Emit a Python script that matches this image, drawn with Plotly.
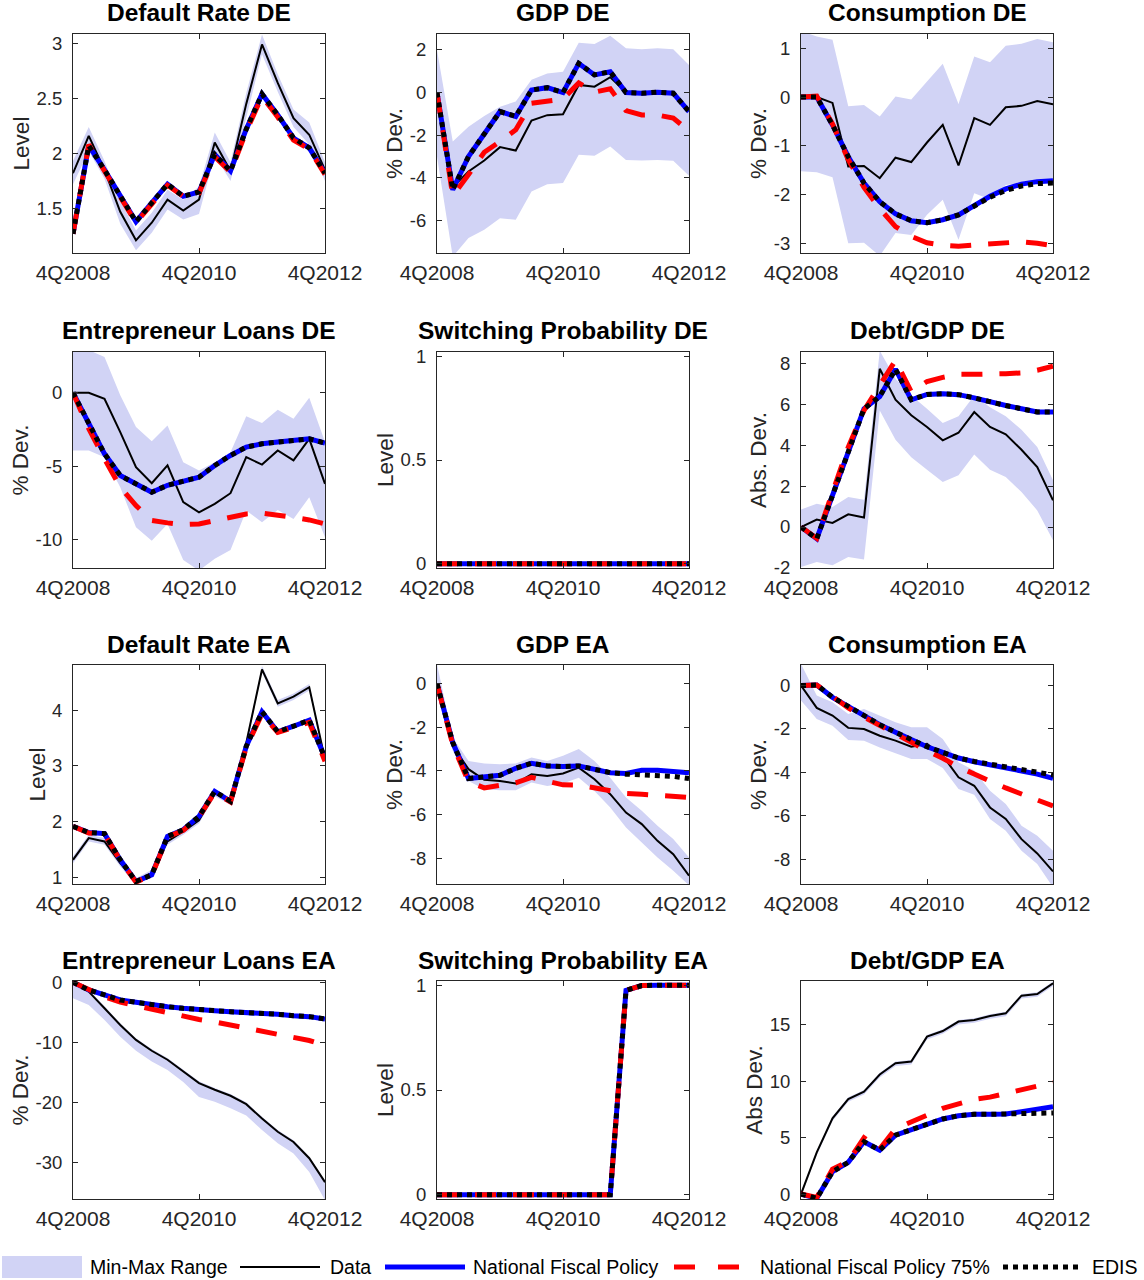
import plotly.graph_objects as go

# Quarterly sample, 4Q2008 to 4Q2012
QUARTERS = ["4Q2008", "1Q2009", "2Q2009", "3Q2009", "4Q2009", "1Q2010", "2Q2010",
            "3Q2010", "4Q2010", "1Q2011", "2Q2011", "3Q2011", "4Q2011", "1Q2012",
            "2Q2012", "3Q2012", "4Q2012"]
X_TICKS = ["4Q2008", "4Q2010", "4Q2012"]

# ---- Default Rate DE ----
def_de_lo = [1.72, 2.02, 1.77, 1.36, 1.12, 1.28, 1.49, 1.40, 1.45, 1.98, 1.75, 2.33, 2.90, 2.56, 2.24, 2.08, 1.75]
def_de_hi = [1.93, 2.24, 1.93, 1.57, 1.30, 1.46, 1.67, 1.58, 1.70, 2.19, 1.92, 2.55, 3.08, 2.72, 2.40, 2.28, 1.92]
def_de_data = [1.82, 2.16, 1.85, 1.47, 1.21, 1.37, 1.58, 1.48, 1.58, 2.10, 1.84, 2.45, 2.99, 2.64, 2.32, 2.17, 1.85]
def_de_nfp = [1.27, 2.07, 1.85, 1.62, 1.38, 1.55, 1.72, 1.61, 1.65, 1.99, 1.84, 2.22, 2.54, 2.35, 2.14, 2.05, 1.82]
def_de_nfp75 = [1.27, 2.08, 1.84, 1.61, 1.37, 1.54, 1.71, 1.61, 1.64, 1.97, 1.83, 2.20, 2.52, 2.33, 2.12, 2.04, 1.81]
def_de_edis = [1.27, 2.07, 1.85, 1.62, 1.38, 1.55, 1.72, 1.61, 1.65, 1.99, 1.84, 2.22, 2.54, 2.35, 2.14, 2.05, 1.82]

# ---- GDP DE ----
gdp_de_lo = [-3.0, -7.7, -6.83, -6.44, -5.9, -5.97, -4.64, -4.3, -4.25, -2.92, -2.97, -2.53, -3.16, -3.19, -3.16, -3.2, -3.9]
gdp_de_hi = [2.0, -2.3, -1.6, -1.1, -0.66, -0.42, 0.6, 0.9, 0.98, 2.34, 2.28, 2.67, 2.08, 2.03, 2.08, 2.03, 1.3]
gdp_de_data = [0.0, -4.45, -3.7, -3.19, -2.56, -2.72, -1.31, -1.06, -1.02, 0.36, 0.28, 0.72, 0.02, -0.02, 0.02, 0.0, -0.85]
gdp_de_nfp = [0.0, -4.56, -3.0, -1.9, -0.89, -1.12, 0.12, 0.23, 0.0, 1.37, 0.83, 0.98, 0.0, -0.03, 0.02, -0.03, -0.89]
gdp_de_nfp75 = [0.0, -4.85, -3.85, -2.8, -2.3, -1.75, -0.5, -0.42, -0.3, 0.45, 0.02, 0.18, -0.85, -1.05, -1.05, -1.2, -1.8]
gdp_de_edis = [0.0, -4.56, -3.0, -1.9, -0.89, -1.12, 0.12, 0.23, 0.0, 1.37, 0.83, 0.98, 0.0, -0.03, 0.02, -0.03, -0.89]

# ---- Consumption DE ----
con_de_lo = [-1.52, -1.54, -1.64, -2.99, -2.98, -3.25, -2.78, -2.82, -2.41, -2.1, -2.92, -1.97, -2.09, -1.8, -1.76, -1.69, -1.73]
con_de_hi = [1.35, 1.24, 1.17, -0.19, -0.16, -0.4, 0.01, -0.05, 0.32, 0.68, -0.14, 0.83, 0.71, 1.05, 1.09, 1.19, 1.12]
con_de_data = [0.0, 0.0, -0.12, -1.42, -1.41, -1.66, -1.24, -1.33, -0.93, -0.57, -1.4, -0.43, -0.57, -0.21, -0.18, -0.08, -0.15]
con_de_nfp = [0.0, 0.0, -0.57, -1.22, -1.76, -2.14, -2.39, -2.53, -2.57, -2.51, -2.41, -2.23, -2.03, -1.88, -1.78, -1.73, -1.71]
con_de_nfp75 = [0.0, 0.02, -0.55, -1.28, -1.85, -2.28, -2.65, -2.85, -2.98, -3.03, -3.05, -3.03, -3.0, -2.97, -2.96, -2.99, -3.04]
con_de_edis = [0.0, 0.0, -0.57, -1.22, -1.76, -2.14, -2.39, -2.53, -2.57, -2.51, -2.41, -2.24, -2.05, -1.91, -1.82, -1.77, -1.76]

# ---- Entrepreneur Loans DE ----
loan_de_lo = [-3.93, -3.93, -4.39, -6.43, -9.16, -10.07, -8.93, -11.39, -12.1, -11.3, -10.7, -8.02, -8.82, -7.98, -8.6, -7.11, -9.84]
loan_de_hi = [3.0, 2.9, 2.43, -0.18, -2.34, -3.3, -2.23, -4.73, -5.3, -4.73, -4.05, -1.61, -2.07, -1.16, -1.77, -0.34, -3.36]
loan_de_data = [0.0, 0.0, -0.41, -2.68, -5.07, -6.16, -4.95, -7.45, -8.14, -7.57, -6.84, -4.39, -4.89, -3.93, -4.61, -3.14, -6.2]
loan_de_nfp = [0.0, -2.1, -4.16, -5.64, -6.2, -6.77, -6.3, -6.0, -5.75, -4.95, -4.27, -3.7, -3.48, -3.36, -3.25, -3.14, -3.43]
loan_de_nfp75 = [0.0, -2.45, -4.5, -6.43, -7.68, -8.7, -8.86, -8.98, -8.93, -8.7, -8.48, -8.25, -8.2, -8.3, -8.48, -8.66, -8.93]
loan_de_edis = [0.0, -2.1, -4.16, -5.64, -6.2, -6.77, -6.3, -6.0, -5.75, -4.95, -4.27, -3.7, -3.48, -3.36, -3.25, -3.14, -3.43]

# ---- Switching Probability DE ----
sw_de_nfp = [0.0, 0.0, 0.0, 0.0, 0.0, 0.0, 0.0, 0.0, 0.0, 0.0, 0.0, 0.0, 0.0, 0.0, 0.0, 0.0, 0.0]
sw_de_nfp75 = [0.0, 0.0, 0.0, 0.0, 0.0, 0.0, 0.0, 0.0, 0.0, 0.0, 0.0, 0.0, 0.0, 0.0, 0.0, 0.0, 0.0]
sw_de_edis = [0.0, 0.0, 0.0, 0.0, 0.0, 0.0, 0.0, 0.0, 0.0, 0.0, 0.0, 0.0, 0.0, 0.0, 0.0, 0.0, 0.0]

# ---- Debt/GDP DE ----
debt_de_lo = [-1.95, -1.71, -1.87, -1.46, -1.59, 5.69, 4.26, 3.41, 2.8, 2.2, 2.52, 3.54, 2.8, 2.44, 1.71, 0.81, -0.65]
debt_de_hi = [0.85, 1.14, 0.98, 1.46, 1.33, 8.6, 7.24, 6.42, 5.77, 5.07, 5.4, 6.42, 5.85, 5.4, 4.75, 3.9, 2.28]
debt_de_data = [0.0, 0.36, 0.2, 0.62, 0.46, 7.72, 6.21, 5.45, 4.88, 4.23, 4.6, 5.61, 4.88, 4.52, 3.77, 2.93, 1.3]
debt_de_nfp = [0.0, -0.57, 1.54, 3.74, 5.77, 6.37, 7.7, 6.21, 6.47, 6.5, 6.46, 6.3, 6.1, 5.93, 5.77, 5.61, 5.61]
debt_de_nfp75 = [0.0, -0.55, 1.7, 3.9, 5.69, 6.9, 8.13, 6.6, 7.1, 7.3, 7.45, 7.45, 7.45, 7.48, 7.52, 7.65, 7.85]
debt_de_edis = [0.0, -0.57, 1.54, 3.74, 5.77, 6.37, 7.7, 6.21, 6.47, 6.5, 6.46, 6.3, 6.1, 5.93, 5.77, 5.61, 5.61]

# ---- Default Rate EA ----
def_ea_lo = [1.25, 1.64, 1.58, 1.19, 0.86, 1.01, 1.58, 1.76, 1.96, 2.45, 2.30, 3.35, 4.67, 4.06, 4.18, 4.35, 3.05]
def_ea_hi = [1.37, 1.76, 1.70, 1.31, 0.98, 1.13, 1.70, 1.88, 2.08, 2.57, 2.42, 3.47, 4.79, 4.18, 4.30, 4.47, 3.17]
def_ea_data = [1.31, 1.70, 1.64, 1.25, 0.92, 1.07, 1.64, 1.82, 2.02, 2.51, 2.36, 3.41, 4.73, 4.12, 4.24, 4.41, 3.11]
def_ea_nfp = [1.91, 1.80, 1.78, 1.31, 0.92, 1.04, 1.73, 1.85, 2.09, 2.54, 2.36, 3.35, 3.97, 3.61, 3.71, 3.82, 3.14]
def_ea_nfp75 = [1.91, 1.79, 1.77, 1.30, 0.91, 1.03, 1.72, 1.84, 2.08, 2.52, 2.35, 3.33, 3.93, 3.60, 3.69, 3.78, 3.08]
def_ea_edis = [1.91, 1.80, 1.78, 1.31, 0.92, 1.04, 1.73, 1.85, 2.09, 2.54, 2.36, 3.35, 3.97, 3.61, 3.71, 3.82, 3.14]

# ---- GDP EA ----
gdp_ea_lo = [-0.41, -3.08, -4.46, -4.84, -4.89, -4.89, -4.53, -4.69, -4.58, -4.31, -4.92, -5.68, -6.6, -7.28, -7.97, -8.58, -9.25]
gdp_ea_hi = [0.9, -2.47, -3.54, -3.66, -3.69, -3.66, -3.39, -3.54, -3.31, -3.0, -3.54, -4.31, -5.22, -5.83, -6.52, -7.13, -7.97]
gdp_ea_data = [0.0, -2.86, -3.92, -4.41, -4.46, -4.58, -4.15, -4.23, -4.12, -3.85, -4.38, -5.07, -5.91, -6.44, -7.21, -7.82, -8.81]
gdp_ea_nfp = [0.0, -2.7, -4.35, -4.27, -4.2, -3.88, -3.65, -3.77, -3.8, -3.77, -3.92, -4.08, -4.12, -3.97, -3.97, -4.0, -4.08]
gdp_ea_nfp75 = [0.0, -2.8, -4.5, -4.78, -4.66, -4.55, -4.3, -4.45, -4.64, -4.65, -4.78, -4.92, -5.04, -5.07, -5.12, -5.18, -5.22]
gdp_ea_edis = [0.0, -2.7, -4.35, -4.27, -4.2, -3.88, -3.65, -3.77, -3.8, -3.77, -3.92, -4.08, -4.15, -4.17, -4.2, -4.25, -4.35]

# ---- Consumption EA ----
con_ea_lo = [-0.69, -1.54, -1.85, -2.51, -2.54, -2.85, -3.12, -3.38, -3.38, -3.8, -4.77, -5.03, -6.15, -6.69, -7.62, -8.23, -9.3]
con_ea_hi = [1.0, -0.46, -0.77, -1.31, -1.08, -1.38, -1.69, -1.92, -1.92, -2.46, -3.54, -3.92, -4.85, -5.46, -6.46, -6.92, -7.62]
con_ea_data = [0.0, -1.03, -1.38, -1.95, -2.0, -2.31, -2.54, -2.82, -2.69, -3.23, -4.23, -4.62, -5.62, -6.15, -7.08, -7.74, -8.57]
con_ea_nfp = [0.0, 0.03, -0.54, -0.97, -1.43, -1.8, -2.15, -2.51, -2.82, -3.08, -3.34, -3.51, -3.65, -3.77, -3.92, -4.08, -4.28]
con_ea_nfp75 = [0.0, 0.03, -0.5, -1.03, -1.45, -1.85, -2.2, -2.6, -3.0, -3.35, -3.75, -4.08, -4.42, -4.72, -5.0, -5.25, -5.55]
con_ea_edis = [0.0, 0.03, -0.54, -0.97, -1.43, -1.8, -2.15, -2.51, -2.82, -3.08, -3.34, -3.5, -3.63, -3.74, -3.87, -3.99, -4.12]

# ---- Entrepreneur Loans EA ----
loan_ea_lo = [-2.67, -3.78, -6.28, -9.06, -11.4, -13.2, -14.6, -16.6, -19.1, -19.9, -21.0, -22.2, -24.6, -26.8, -28.5, -31.6, -36.3]
loan_ea_hi = [0.3, -1.3, -4.0, -6.8, -9.3, -11.1, -12.6, -14.6, -16.5, -17.6, -18.6, -20.0, -22.4, -24.6, -26.3, -29.0, -33.0]
loan_ea_data = [0.0, -1.56, -4.33, -7.1, -9.6, -11.4, -12.9, -14.9, -16.8, -17.9, -18.9, -20.3, -22.7, -24.9, -26.6, -29.3, -33.3]
loan_ea_nfp = [0.0, -1.28, -2.1, -2.94, -3.33, -3.78, -4.06, -4.33, -4.6, -4.72, -4.9, -5.0, -5.17, -5.33, -5.56, -5.72, -6.1]
loan_ea_nfp75 = [0.0, -1.3, -2.4, -3.3, -3.9, -4.5, -5.1, -5.6, -6.2, -6.6, -7.1, -7.6, -8.1, -8.6, -9.1, -9.7, -10.5]
loan_ea_edis = [0.0, -1.28, -2.1, -2.94, -3.33, -3.78, -4.06, -4.33, -4.6, -4.72, -4.9, -5.0, -5.17, -5.33, -5.56, -5.72, -6.1]

# ---- Switching Probability EA ----
sw_ea_nfp = [0.0, 0.0, 0.0, 0.0, 0.0, 0.0, 0.0, 0.0, 0.0, 0.0, 0.0, 0.0, 0.975, 0.998, 1.0, 1.0, 1.0]
sw_ea_nfp75 = [0.0, 0.0, 0.0, 0.0, 0.0, 0.0, 0.0, 0.0, 0.0, 0.0, 0.0, 0.0, 0.975, 0.998, 1.0, 1.0, 1.0]
sw_ea_edis = [0.0, 0.0, 0.0, 0.0, 0.0, 0.0, 0.0, 0.0, 0.0, 0.0, 0.0, 0.0, 0.975, 0.998, 1.0, 1.0, 1.0]

# ---- Debt/GDP EA ----
debt_ea_lo = [-0.25, 3.45, 6.47, 8.18, 8.83, 10.35, 11.35, 11.5, 13.71, 14.21, 15.05, 15.19, 15.55, 15.78, 17.35, 17.5, 18.45]
debt_ea_hi = [0.15, 3.85, 6.87, 8.58, 9.23, 10.75, 11.75, 11.9, 14.11, 14.61, 15.45, 15.59, 15.95, 16.18, 17.75, 17.9, 18.85]
debt_ea_data = [0.0, 3.7, 6.72, 8.43, 9.08, 10.6, 11.6, 11.75, 13.96, 14.46, 15.3, 15.44, 15.8, 16.03, 17.6, 17.75, 18.7]
debt_ea_nfp = [0.0, -0.38, 1.98, 2.81, 4.64, 3.9, 5.23, 5.68, 6.12, 6.66, 6.95, 7.07, 7.07, 7.1, 7.31, 7.54, 7.75]
debt_ea_nfp75 = [0.0, -0.3, 2.2, 2.9, 5.0, 4.0, 5.8, 6.4, 7.0, 7.6, 8.0, 8.4, 8.6, 8.9, 9.2, 9.5, 9.9]
debt_ea_edis = [0.0, -0.38, 1.98, 2.81, 4.64, 3.9, 5.23, 5.68, 6.12, 6.66, 6.95, 7.07, 7.07, 7.1, 7.2, 7.2, 7.2]

PANELS = [
    dict(title="Default Rate DE", ylabel="Level", lo=def_de_lo, hi=def_de_hi, data=def_de_data,
         nfp=def_de_nfp, nfp75=def_de_nfp75, edis=def_de_edis,
         yrange=[1.095, 3.085], yticks=[1.5, 2, 2.5, 3]),
    dict(title="GDP DE", ylabel="% Dev.", lo=gdp_de_lo, hi=gdp_de_hi, data=gdp_de_data,
         nfp=gdp_de_nfp, nfp75=gdp_de_nfp75, edis=gdp_de_edis,
         yrange=[-7.53, 2.75], yticks=[-6, -4, -2, 0, 2]),
    dict(title="Consumption DE", ylabel="% Dev.", lo=con_de_lo, hi=con_de_hi, data=con_de_data,
         nfp=con_de_nfp, nfp75=con_de_nfp75, edis=con_de_edis,
         yrange=[-3.19, 1.29], yticks=[-3, -2, -1, 0, 1]),
    dict(title="Entrepreneur Loans DE", ylabel="% Dev.", lo=loan_de_lo, hi=loan_de_hi, data=loan_de_data,
         nfp=loan_de_nfp, nfp75=loan_de_nfp75, edis=loan_de_edis,
         yrange=[-11.93, 2.77], yticks=[-10, -5, 0]),
    dict(title="Switching Probability DE", ylabel="Level", lo=None, hi=None, data=None,
         nfp=sw_de_nfp, nfp75=sw_de_nfp75, edis=sw_de_edis,
         yrange=[-0.02, 1.02], yticks=[0, 0.5, 1]),
    dict(title="Debt/GDP DE", ylabel="Abs. Dev.", lo=debt_de_lo, hi=debt_de_hi, data=debt_de_data,
         nfp=debt_de_nfp, nfp75=debt_de_nfp75, edis=debt_de_edis,
         yrange=[-2.0, 8.54], yticks=[-2, 0, 2, 4, 6, 8]),
    dict(title="Default Rate EA", ylabel="Level", lo=def_ea_lo, hi=def_ea_hi, data=def_ea_data,
         nfp=def_ea_nfp, nfp75=def_ea_nfp75, edis=def_ea_edis,
         yrange=[0.875, 4.81], yticks=[1, 2, 3, 4]),
    dict(title="GDP EA", ylabel="% Dev.", lo=gdp_ea_lo, hi=gdp_ea_hi, data=gdp_ea_data,
         nfp=gdp_ea_nfp, nfp75=gdp_ea_nfp75, edis=gdp_ea_edis,
         yrange=[-9.19, 0.86], yticks=[-8, -6, -4, -2, 0]),
    dict(title="Consumption EA", ylabel="% Dev.", lo=con_ea_lo, hi=con_ea_hi, data=con_ea_data,
         nfp=con_ea_nfp, nfp75=con_ea_nfp75, edis=con_ea_edis,
         yrange=[-9.15, 0.95], yticks=[-8, -6, -4, -2, 0]),
    dict(title="Entrepreneur Loans EA", ylabel="% Dev.", lo=loan_ea_lo, hi=loan_ea_hi, data=loan_ea_data,
         nfp=loan_ea_nfp, nfp75=loan_ea_nfp75, edis=loan_ea_edis,
         yrange=[-36.1, 0.22], yticks=[-30, -20, -10, 0]),
    dict(title="Switching Probability EA", ylabel="Level", lo=None, hi=None, data=None,
         nfp=sw_ea_nfp, nfp75=sw_ea_nfp75, edis=sw_ea_edis,
         yrange=[-0.02, 1.02], yticks=[0, 0.5, 1]),
    dict(title="Debt/GDP EA", ylabel="Abs Dev.", lo=debt_ea_lo, hi=debt_ea_hi, data=debt_ea_data,
         nfp=debt_ea_nfp, nfp75=debt_ea_nfp75, edis=debt_ea_edis,
         yrange=[-0.44, 18.9], yticks=[0, 5, 10, 15]),
]

# ---- styling / layout geometry (pixels) ----
W, H = 1144, 1280
COL_X = [(73, 325), (437, 689), (801, 1053)]
ROW_Y = [(34, 253), (352, 568), (665, 884), (981, 1199)]
AX_COLOR = "#262626"
BAND_COLOR = "#d1d3f5"
FONT = "Liberation Sans, Arial, Helvetica, sans-serif"


def px_x(x):
    return x / W


def px_y(y):
    return 1 - y / H


fig = go.Figure()
layout = dict(
    width=W, height=H,
    margin=dict(l=0, r=0, t=0, b=0, pad=0, autoexpand=False),
    paper_bgcolor="white", plot_bgcolor="white",
    showlegend=False,
    font=dict(family=FONT, color=AX_COLOR),
)
annotations = []
shapes = []

for k, p in enumerate(PANELS):
    n = k + 1
    xa = "x" if n == 1 else f"x{n}"
    ya = "y" if n == 1 else f"y{n}"
    row, col = divmod(k, 3)
    x0, x1 = COL_X[col]
    y0, y1 = ROW_Y[row]

    if p["lo"] is not None:
        fig.add_trace(go.Scatter(x=QUARTERS, y=p["lo"], mode="lines", line=dict(width=0),
                                 hoverinfo="skip", xaxis=xa, yaxis=ya))
        fig.add_trace(go.Scatter(x=QUARTERS, y=p["hi"], mode="lines", line=dict(width=0),
                                 fill="tonexty", fillcolor=BAND_COLOR, name="Min-Max Range",
                                 xaxis=xa, yaxis=ya))
    if p["data"] is not None:
        fig.add_trace(go.Scatter(x=QUARTERS, y=p["data"], mode="lines", name="Data",
                                 line=dict(color="black", width=2), xaxis=xa, yaxis=ya))
    fig.add_trace(go.Scatter(x=QUARTERS, y=p["nfp"], mode="lines", name="National Fiscal Policy",
                             line=dict(color="#0000ff", width=5), xaxis=xa, yaxis=ya))
    fig.add_trace(go.Scatter(x=QUARTERS, y=p["nfp75"], mode="lines", name="National Fiscal Policy 75%",
                             line=dict(color="#ff0000", width=5, dash="21px,17px"), xaxis=xa, yaxis=ya))
    fig.add_trace(go.Scatter(x=QUARTERS, y=p["edis"], mode="lines", name="EDIS",
                             line=dict(color="black", width=5, dash="5px,5px"), xaxis=xa, yaxis=ya))

    layout["xaxis" if n == 1 else f"xaxis{n}"] = dict(
        domain=[px_x(x0), px_x(x1)], anchor=ya, type="category",
        categoryorder="array", categoryarray=QUARTERS,
        range=[0, 16], tickmode="array", tickvals=X_TICKS, ticktext=X_TICKS,
        ticks="inside", ticklen=5, tickwidth=1, tickcolor=AX_COLOR,
        showline=True, linecolor=AX_COLOR, linewidth=1, mirror="ticks",
        showgrid=False, zeroline=False, automargin=False,
        tickfont=dict(size=21, color=AX_COLOR, family=FONT),
        ticklabelstandoff=1,
    )
    layout["yaxis" if n == 1 else f"yaxis{n}"] = dict(
        domain=[px_y(y1), px_y(y0)], anchor=xa,
        range=p["yrange"], tickmode="array", tickvals=p["yticks"],
        ticktext=[f"{v:g}" for v in p["yticks"]],
        ticks="inside", ticklen=5, tickwidth=1, tickcolor=AX_COLOR,
        showline=True, linecolor=AX_COLOR, linewidth=1, mirror="ticks",
        showgrid=False, zeroline=False, automargin=False,
        tickfont=dict(size=18.5, color=AX_COLOR, family=FONT),
        ticklabelstandoff=6,
        title=dict(text=p["ylabel"], font=dict(size=22.5, color=AX_COLOR, family=FONT), standoff=0),
    )
    annotations.append(dict(
        text=f"<b>{p['title']}</b>", xref="paper", yref="paper",
        x=px_x((x0 + x1) / 2), y=px_y(y0 - 21), xanchor="center", yanchor="middle",
        showarrow=False, font=dict(size=24.5, color="black", family=FONT),
    ))

# ---- legend row along the bottom ----
LEG_Y = 1267
shapes.append(dict(type="rect", xref="paper", yref="paper", x0=px_x(2), x1=px_x(82),
                   y0=px_y(1278), y1=px_y(1256), fillcolor=BAND_COLOR, line=dict(width=0)))
shapes.append(dict(type="line", xref="paper", yref="paper", x0=px_x(240), x1=px_x(320),
                   y0=px_y(LEG_Y), y1=px_y(LEG_Y), line=dict(color="black", width=2)))
shapes.append(dict(type="line", xref="paper", yref="paper", x0=px_x(385), x1=px_x(465),
                   y0=px_y(LEG_Y), y1=px_y(LEG_Y), line=dict(color="#0000ff", width=5)))
shapes.append(dict(type="line", xref="paper", yref="paper", x0=px_x(674), x1=px_x(739),
                   y0=px_y(LEG_Y), y1=px_y(LEG_Y), line=dict(color="#ff0000", width=5, dash="21px,23px")))
shapes.append(dict(type="line", xref="paper", yref="paper", x0=px_x(1003), x1=px_x(1083),
                   y0=px_y(LEG_Y), y1=px_y(LEG_Y), line=dict(color="black", width=5, dash="5px,5px")))
for label, lx in [("Min-Max Range", 88), ("Data", 328), ("National Fiscal Policy", 471),
                  ("National Fiscal Policy 75%", 758), ("EDIS", 1090)]:
    annotations.append(dict(text=label, xref="paper", yref="paper", x=px_x(lx), y=px_y(LEG_Y),
                            xanchor="left", yanchor="middle", showarrow=False,
                            font=dict(size=19.5, color="black", family=FONT)))

layout["annotations"] = annotations
layout["shapes"] = shapes
fig.update_layout(**layout)
fig.write_html("out.html")
